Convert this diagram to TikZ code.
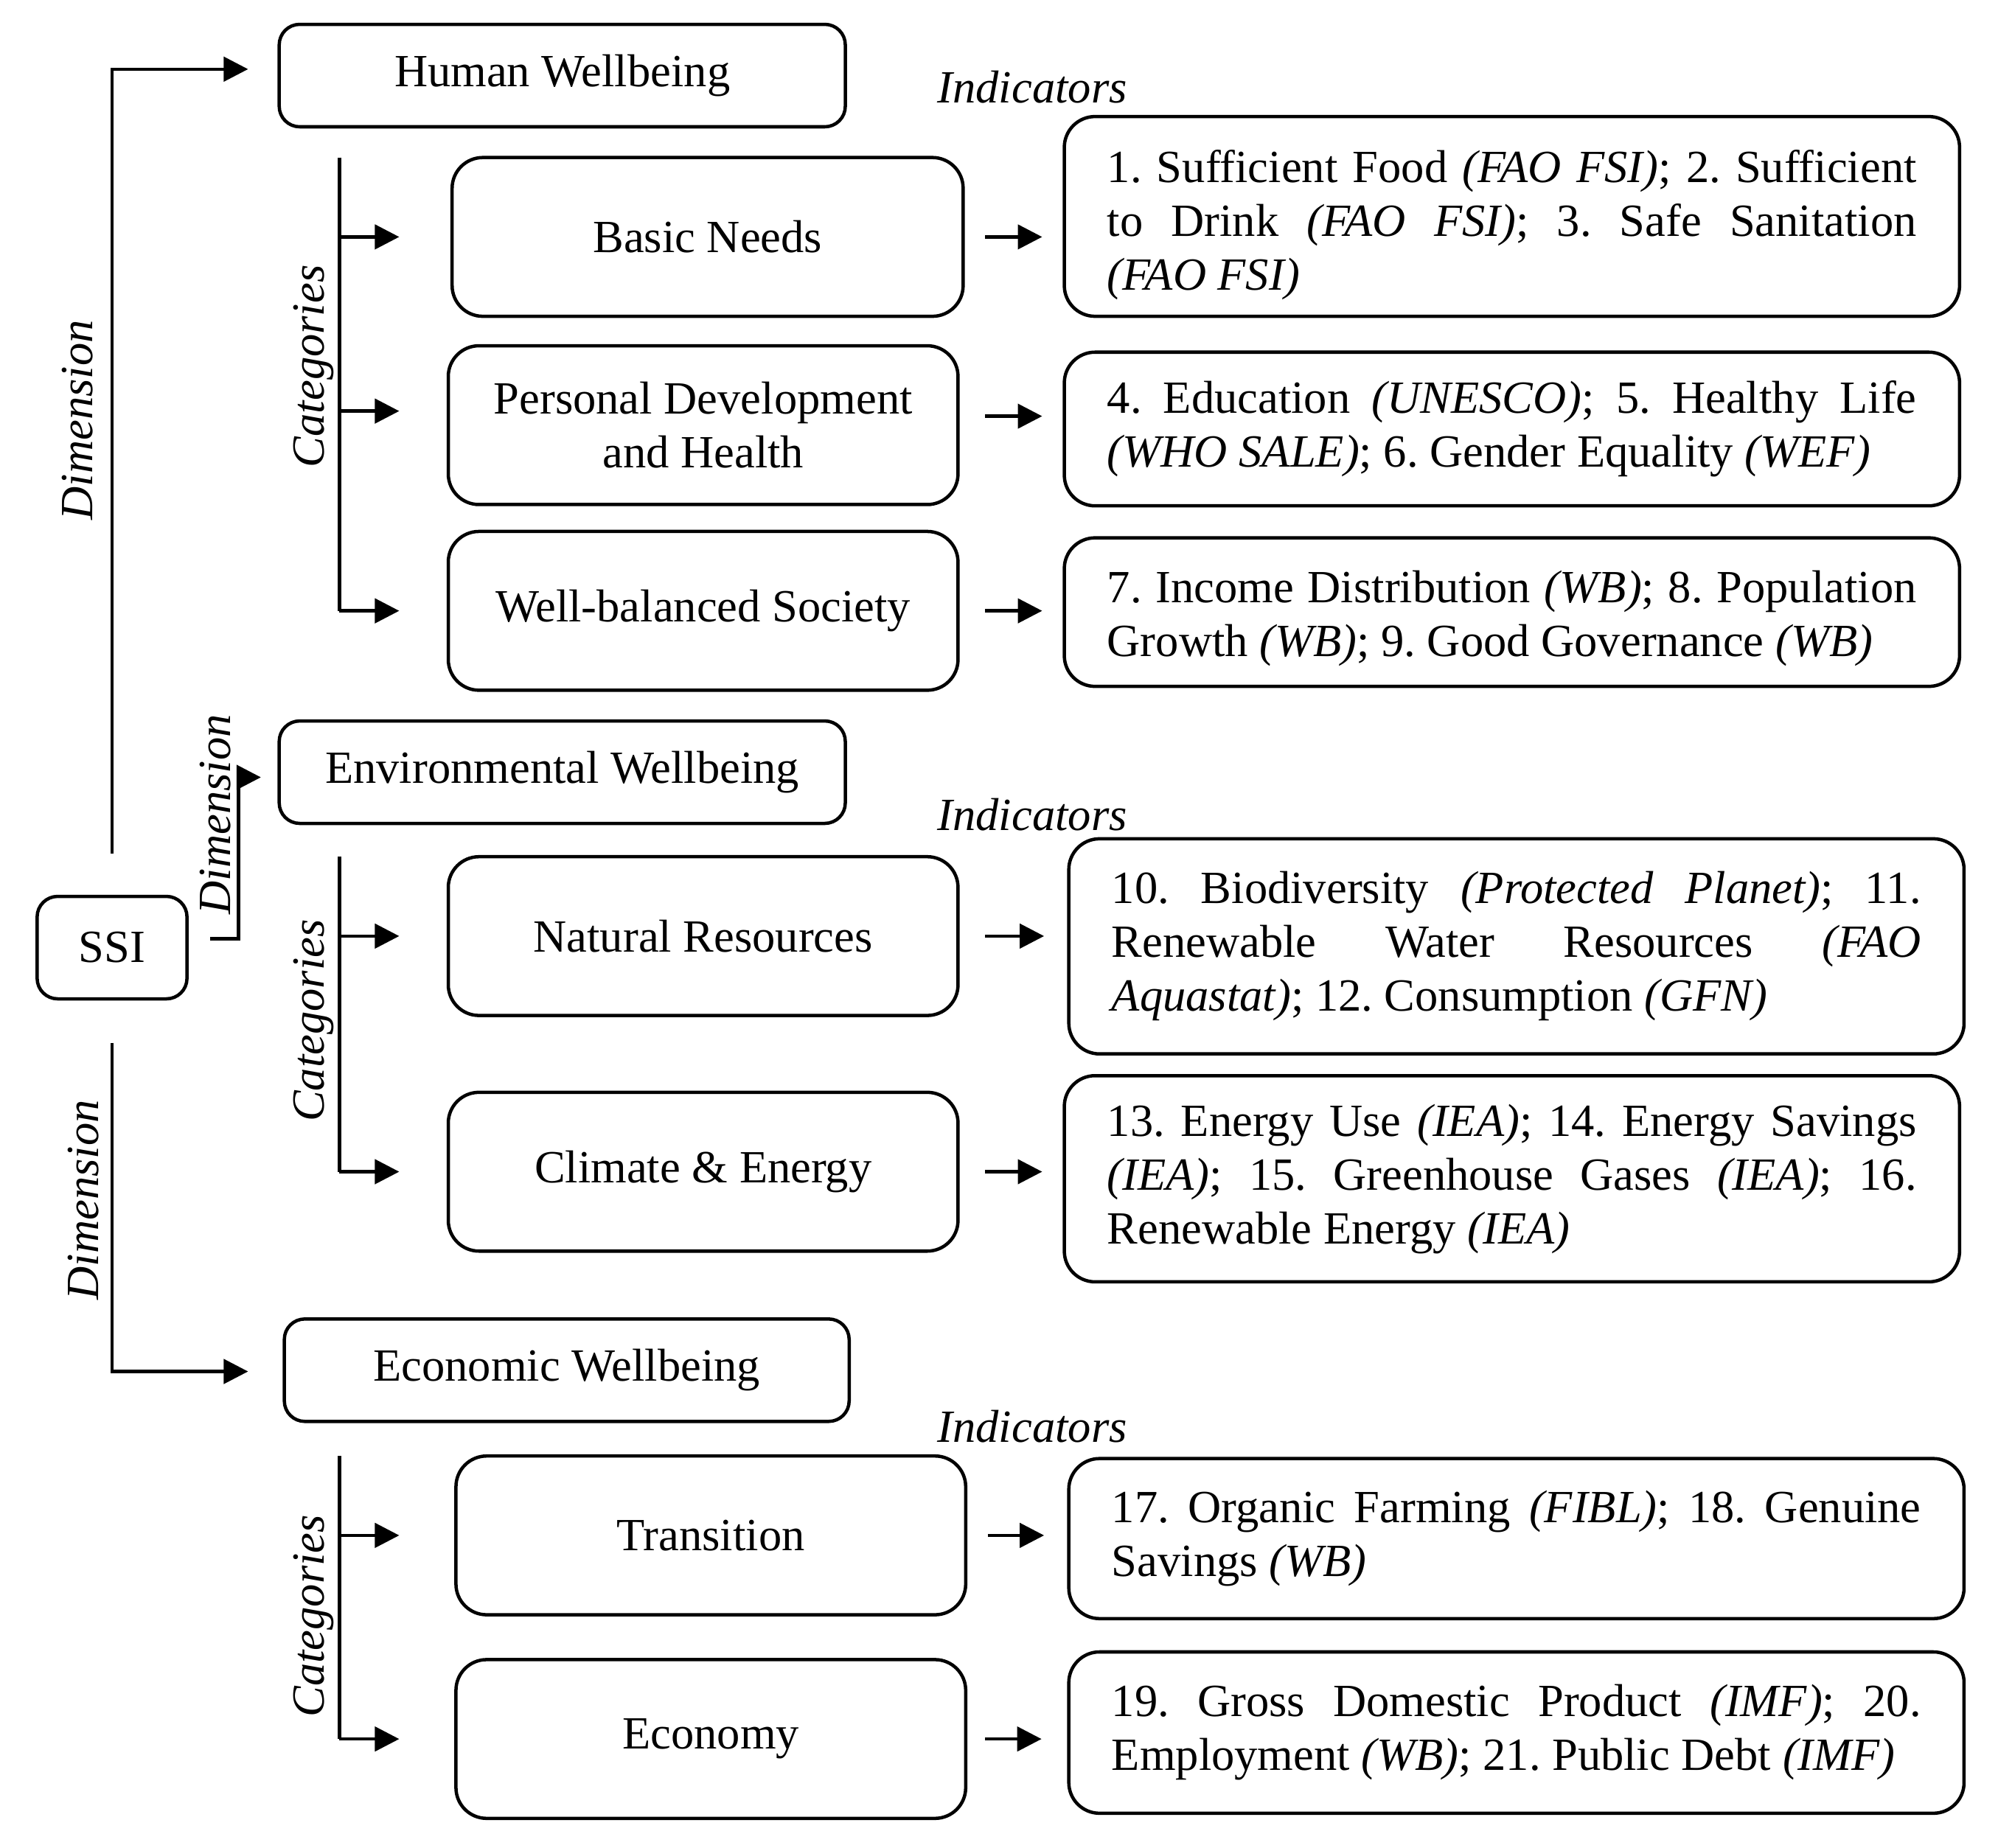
\documentclass[tikz,border=0pt]{standalone}
\usepackage{fontspec}
\setmainfont{Liberation Serif}
\usetikzlibrary{arrows.meta}
\newcommand{\jline}[1]{\leavevmode\hbox to 316pt{\spaceskip=.25em plus 1em minus .1em\relax #1}}
\newcommand{\nline}[1]{\leavevmode\hbox{\spaceskip=.25em\relax #1}}
\begin{document}
\begin{tikzpicture}[x=0.5pt,y=-0.5pt,
  every node/.style={font=\fontsize{18}{21}\selectfont},
  dimbox/.style={draw, line width=1.3pt, rounded corners=8pt, minimum width=221pt, minimum height=40pt, inner sep=0pt},
  catbox/.style={draw, line width=1.3pt, rounded corners=12pt, minimum width=199pt, minimum height=62pt, inner sep=0pt, align=center},
  indbox/.style={draw, line width=1.3pt, rounded corners=12pt, text width=316pt, inner xsep=16.75pt, inner ysep=0pt, align=left,
    font=\fontsize{18}{21}\selectfont\frenchspacing},
  lbl/.style={font=\fontsize{18}{21}\selectfont\itshape},
  conn/.style={line width=1.3pt},
  arr/.style={line width=1.3pt, -{Triangle[length=9.5pt,width=9.5pt]}},
]
\useasboundingbox (0,0) rectangle (1560,1442.6);

% dimension boxes
\node[dimbox] (hw) at (439,59) {Human Wellbeing};
\node[dimbox] (env) at (439,603) {Environmental Wellbeing};
\node[dimbox, minimum width=220.5pt] (eco) at (442.5,1070) {Economic Wellbeing};
\node[dimbox, minimum width=58.5pt] (ssi) at (87.5,740) {SSI};

% category boxes
\node[catbox, minimum width=199.5pt] (bn) at (552.5,185) {Basic Needs};
\node[catbox] (pd) at (549,332) {Personal Development\\and Health};
\node[catbox] (wb) at (549,477) {Well-balanced Society};
\node[catbox] (nr) at (549,731) {Natural Resources};
\node[catbox] (ce) at (549,915) {Climate \& Energy};
\node[catbox] (tr) at (555,1199) {Transition};
\node[catbox] (ec) at (555,1358) {Economy};

% indicator boxes
\node[indbox, minimum height=78pt] (i1) at (1180.5,169) {\jline{\rule{0pt}{19.5pt}1. Sufficient Food \textit{(FAO FSI)}; 2. Sufficient}\\\jline{to Drink \textit{(FAO FSI)}; 3. Safe Sanitation}\\\nline{\textit{(FAO FSI)}}};
\node[indbox, minimum height=60pt] (i2) at (1180.5,335) {\jline{4. Education \textit{(UNESCO)}; 5. Healthy Life}\\\nline{\textit{(WHO SALE)}; 6. Gender Equality \textit{(WEF)}}};
\node[indbox, minimum height=58pt] (i3) at (1180.5,478) {\jline{\rule{0pt}{17.5pt}7. Income Distribution \textit{(WB)}; 8. Population}\\\nline{Growth \textit{(WB)}; 9. Good Governance \textit{(WB)}}};
\node[indbox, minimum height=84pt] (i4) at (1184,739) {\jline{10. Biodiversity \textit{(Protected Planet)}; 11.}\\\jline{Renewable Water Resources \textit{(FAO}}\\\nline{\textit{Aquastat)}; 12. Consumption \textit{(GFN)}}};
\node[indbox, minimum height=80.5pt] (i5) at (1180.5,920.5) {\jline{13. Energy Use \textit{(IEA)}; 14. Energy Savings}\\\jline{\textit{(IEA)}; 15. Greenhouse Gases \textit{(IEA)}; 16.}\\\nline{Renewable Energy \textit{(IEA)}}};
\node[indbox, minimum height=62.5pt] (i6) at (1184,1201.5) {\jline{17. Organic Farming \textit{(FIBL)}; 18. Genuine}\\\nline{Savings \textit{(WB)}}};
\node[indbox, minimum height=63pt] (i7) at (1184,1353) {\jline{19. Gross Domestic Product \textit{(IMF)}; 20.}\\\nline{Employment \textit{(WB)}; 21. Public Debt \textit{(IMF)}}};

% labels
\node[lbl] (ind1) at (806,68) {Indicators};
\node[lbl] (ind2) at (806,636) {Indicators};
\node[lbl] (ind3) at (806,1114) {Indicators};
\node[lbl, rotate=90, anchor=base] (dl1) at (72,328) {Dimension};
\node[lbl, rotate=90, anchor=base] (dl2) at (180,636) {Dimension};
\node[lbl, rotate=90, anchor=base] (dl3) at (77,937) {Dimension};
\node[lbl, rotate=90, anchor=base] (cl1) at (253,286) {Categories};
\node[lbl, rotate=90, anchor=base] (cl2) at (253,797) {Categories};
\node[lbl, rotate=90, anchor=base] (cl3) at (253,1262) {Categories};

% dimension connectors
\draw[arr, shorten <=16pt, shorten >=11.5pt] (ssi.north) |- ([yshift=2.5pt]hw.west);
\draw[arr, shorten <=16.5pt, shorten >=13.5pt] (ssi.south) |- ([yshift=-0.5pt]eco.west);
\draw[arr, shorten <=8.5pt, shorten >=6.5pt] ([yshift=3.5pt]ssi.east) -- ++(19.5pt,0) |- ([yshift=-2pt]env.west);

% category brackets
\coordinate (ct1) at (265,123);
\coordinate (pdl) at ([yshift=5.5pt]pd.west);
\draw[conn] (ct1) -- (ct1 |- wb.west);
\draw[arr, shorten >=20pt] (ct1 |- bn.west) -- (bn.west);
\draw[arr, shorten >=18.5pt] (ct1 |- pdl) -- (pdl);
\draw[arr, shorten >=18.5pt] (ct1 |- wb.west) -- (wb.west);

\coordinate (ct2) at (265,669);
\draw[conn] (ct2) -- (ct2 |- ce.west);
\draw[arr, shorten >=18.5pt] (ct2 |- nr.west) -- (nr.west);
\draw[arr, shorten >=18.5pt] (ct2 |- ce.west) -- (ce.west);

\coordinate (ct3) at (265,1137);
\draw[conn] (ct3) -- (ct3 |- ec.west);
\draw[arr, shorten >=21.5pt] (ct3 |- tr.west) -- (tr.west);
\draw[arr, shorten >=21.5pt] (ct3 |- ec.west) -- (ec.west);

% category -> indicator arrows
\coordinate (pdr) at ([yshift=3.5pt]pd.east);
\draw[arr, shorten <=8pt, shorten >=8pt] (bn.east) -- (bn.east -| i1.west);
\draw[arr, shorten <=10pt, shorten >=8pt] (pdr) -- (pdr -| i2.west);
\draw[arr, shorten <=10pt, shorten >=8pt] (wb.east) -- (wb.east -| i3.west);
\draw[arr, shorten <=10pt, shorten >=9pt] (nr.east) -- (nr.east -| i4.west);
\draw[arr, shorten <=10pt, shorten >=8pt] (ce.east) -- (ce.east -| i5.west);
\draw[arr, shorten <=8pt, shorten >=9pt] (tr.east) -- (tr.east -| i6.west);
\draw[arr, shorten <=7pt, shorten >=10pt] (ec.east) -- (ec.east -| i7.west);
\end{tikzpicture}
\end{document}
